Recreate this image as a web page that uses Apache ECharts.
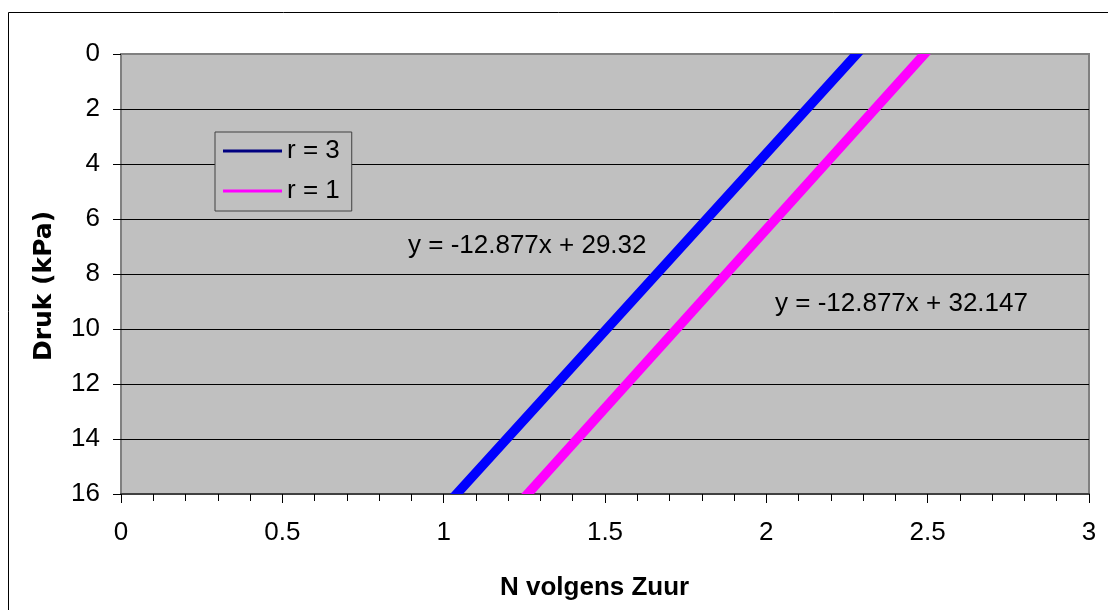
<!DOCTYPE html>
<html>
<head>
<meta charset="utf-8">
<script src="https://cdn.jsdelivr.net/npm/echarts@6/dist/echarts.min.js"></script>
<style>html,body{margin:0;padding:0;background:#fff;}#c{width:1108px;height:610px;}</style>
</head>
<body>
<div id="c"></div>
<script>
// Data
var seriesNames = ['r = 3', 'r = 1'];
var pressure = [0, 16];            // Druk (kPa)
var nBlue = [2.28, 1.04];          // r = 3
var nPink = [2.49, 1.26];          // r = 1
var xTicks = [0, 0.5, 1, 1.5, 2, 2.5, 3];
var yTicks = [0, 2, 4, 6, 8, 10, 12, 14, 16];
var eqBlue = 'y = -12.877x + 29.32';
var eqPink = 'y = -12.877x + 32.147';

var FONT = "'Liberation Sans', Arial, sans-serif";

// one item per segment: [x1, y1, x2, y2]
function segs(xs, ys) {
  var out = [];
  for (var i = 0; i < xs.length - 1; i++) out.push([xs[i], ys[i], xs[i + 1], ys[i + 1]]);
  return out;
}
function lineSeries(name, xs, color) {
  return {
    name: name, type: 'custom', clip: true,
    data: segs(xs, pressure),
    encode: { x: [0, 2], y: [1, 3] },
    itemStyle: { color: color },
    renderItem: function (params, api) {
      var p1 = api.coord([api.value(0), api.value(1)]);
      var p2 = api.coord([api.value(2), api.value(3)]);
      return {
        type: 'line',
        shape: { x1: p1[0], y1: p1[1], x2: p2[0], y2: p2[1] },
        style: { stroke: color, lineWidth: 9.5, lineCap: 'square', fill: null }
      };
    }
  };
}

var chart = echarts.init(document.getElementById('c'));
chart.setOption({
  animation: false,
  backgroundColor: '#ffffff',
  grid: {
    left: 121, top: 54, width: 968, height: 440,
    show: true, backgroundColor: '#c0c0c0', borderColor: '#808080', borderWidth: 2
  },
  legend: {
    orient: 'vertical', left: 215, top: 132,
    padding: [6, 12, 7, 8], itemGap: 14,
    itemWidth: 59, itemHeight: 3, itemTextGap: 7,
    backgroundColor: '#c0c0c0', borderColor: '#404040', borderWidth: 1, borderRadius: 0,
    textStyle: { fontFamily: FONT, fontSize: 26, color: '#000' },
    data: [
      { name: seriesNames[0], icon: 'rect', itemStyle: { color: '#000080' } },
      { name: seriesNames[1], icon: 'rect', itemStyle: { color: '#ff00ff' } }
    ]
  },
  xAxis: {
    type: 'value', min: xTicks[0], max: xTicks[xTicks.length - 1], interval: 0.5,
    position: 'bottom',
    axisLine: { show: true, onZero: false, lineStyle: { color: '#404040', width: 2 } },
    axisTick: { show: true, length: 9, lineStyle: { color: '#000' } },
    minorTick: { show: true, splitNumber: 5, length: 7, lineStyle: { color: '#000' } },
    splitLine: { show: false },
    axisLabel: { fontFamily: FONT, fontSize: 26, color: '#000', margin: 26 }
  },
  yAxis: {
    type: 'value', inverse: true, min: yTicks[0], max: yTicks[yTicks.length - 1], interval: 2,
    axisLine: { show: false, onZero: false },
    axisTick: { show: true, length: 8, lineStyle: { color: '#000' } },
    splitLine: { show: true, showMinLine: false, showMaxLine: false, lineStyle: { color: '#000', width: 1 } },
    axisLabel: { fontFamily: FONT, fontSize: 26, color: '#000', margin: 21 }
  },
  series: [
    lineSeries(seriesNames[0], nBlue, '#0000ff'),
    lineSeries(seriesNames[1], nPink, '#ff00ff')
  ],
  graphic: [
    { type: 'rect', z: -10, shape: { x: 8.5, y: 12.5, width: 1120, height: 620 },
      style: { fill: 'none', stroke: '#000', lineWidth: 1 } },
    { type: 'text', left: 408, top: 233, z: 100,
      style: { text: eqBlue, font: '26px ' + FONT, fill: '#000' } },
    { type: 'text', left: 775, top: 291, z: 100,
      style: { text: eqPink, font: '26px ' + FONT, fill: '#000' } },
    { type: 'text', left: 500, top: 575, z: 100,
      style: { text: 'N volgens Zuur', font: 'bold 26px ' + FONT, fill: '#000' } },
    { type: 'text', x: 44, y: 286, rotation: Math.PI / 2, z: 100,
      style: { text: 'Druk (kPa)', font: "bold 25px 'DejaVu Sans', sans-serif", fill: '#000',
               align: 'center', verticalAlign: 'middle' } }
  ]
});
</script>
</body>
</html>
